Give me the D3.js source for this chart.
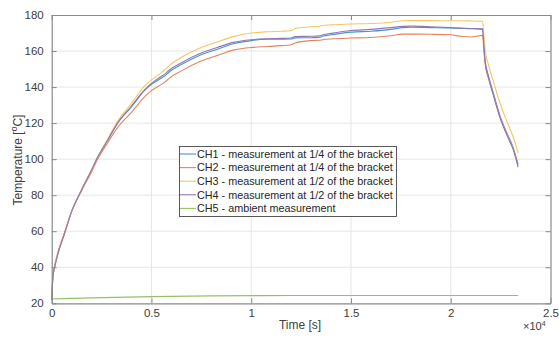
<!DOCTYPE html>
<html><head><meta charset="utf-8">
<script src="https://cdn.jsdelivr.net/npm/d3@7"></script>
<style>
html,body{margin:0;padding:0;background:#fff;}
svg{display:block;font-family:"Liberation Sans",Arial,sans-serif;}
</style></head>
<body><svg id="c" width="559" height="340"></svg>
<script>
// ---- data ----
const time = [0, 65, 150, 300, 650, 1000, 1500, 2000, 2300, 2800, 3300, 4000, 4650, 5000, 5500, 5700, 5900, 6500, 7400, 8300, 9100, 10000, 10800, 11500, 12000, 12200, 13000, 13400, 13600, 14000, 15000, 16000, 17000, 17600, 18000, 19000, 20000, 20500, 21000, 21600, 21650, 21720, 21900, 22140, 22470, 22810, 23140, 23375];
const ch1 = [22, 35, 40, 47, 59, 71, 83, 94, 101, 110.5, 120, 129, 138, 141.5, 145, 146.5, 148.5, 152.5, 157.5, 161, 164, 165.8, 166.5, 166.6, 166.7, 167.3, 167.4, 167.5, 168.3, 169, 170.5, 171, 172, 173, 173.2, 173, 172.8, 172.6, 172.4, 172, 165, 155, 146, 136.5, 124, 114.5, 106, 96.5];
const ch2 = [23, 36, 41, 48, 59.5, 71, 82.5, 93, 100, 109, 117.5, 126, 134.5, 138, 141.5, 143, 145, 149, 154, 157.5, 160.5, 162, 162.5, 163, 163.5, 164.5, 165.8, 166, 166.3, 166.7, 167.2, 167.5, 168.5, 169.4, 169.4, 169.3, 169, 168.2, 167.8, 168.7, 162, 153, 144.5, 135.5, 123.5, 114, 105.5, 97.5];
const ch3 = [22, 35, 40, 47, 59, 71, 83, 94, 101, 111, 121, 131, 140.5, 144, 148, 150, 152, 156.5, 161.5, 165, 168, 170, 170.7, 171, 171.3, 172.5, 173.5, 173.8, 174.2, 174.5, 175, 175.3, 176, 176.8, 176.9, 176.9, 176.8, 176.8, 176.7, 176.5, 170, 161, 152, 143, 131, 121, 112, 103.5];
const ch4 = [22, 35, 40, 47, 59, 71, 83, 94, 101, 110.5, 120, 129.5, 138.5, 142, 146, 147.5, 149.5, 153.5, 158.5, 162, 164.8, 166.3, 166.8, 167, 167.2, 168, 168.2, 168.4, 169, 169.8, 171.4, 172, 173, 173.7, 173.8, 173.5, 173, 172.7, 172.5, 172.3, 164.5, 154.5, 145, 135.5, 123, 113.5, 105, 95.5];
const time5 = [0, 2000, 5000, 8000, 12000, 16000, 20000, 23375];
const ch5 = [22.4, 23.0, 23.7, 24.1, 24.3, 24.3, 24.3, 24.3];
const seriesNames = ["CH1 - measurement at 1/4 of the bracket", "CH2 - measurement at 1/4 of the bracket", "CH3 - measurement at 1/2 of the bracket", "CH4 - measurement at 1/2 of the bracket", "CH5 - ambient measurement"];
const seriesColors = ["#4a93d0", "#e3845c", "#f2c860", "#9078b8", "#98c064"];
const xTicks = [0, 5000, 10000, 15000, 20000, 25000];
const xTickLabels = ["0", "0.5", "1", "1.5", "2", "2.5"];
const yTicks = [20, 40, 60, 80, 100, 120, 140, 160, 180];

// ---- chart ----
const svg = d3.select("#c");
const L = 51.7, R = 550.5, T = 15, B = 303.3;
const x = d3.scaleLinear().domain([0, 25000]).range([L, R]);
const y = d3.scaleLinear().domain([20, 180]).range([B, T]);
const axisCol = "#8a8a8a", textCol = "#404040";

// grid
const g = svg.append("g");
g.selectAll(".gx").data(xTicks.slice(1, -1)).enter().append("line")
  .attr("x1", d => x(d)).attr("x2", d => x(d)).attr("y1", T).attr("y2", B)
  .attr("stroke", "#e6e6e6").attr("stroke-width", 1);
g.selectAll(".gy").data(yTicks.slice(1, -1)).enter().append("line")
  .attr("y1", d => y(d)).attr("y2", d => y(d)).attr("x1", L).attr("x2", R)
  .attr("stroke", "#e6e6e6").attr("stroke-width", 1);

// lines
const sets = [
  {t: time, v: ch1}, {t: time, v: ch2}, {t: time, v: ch3}, {t: time, v: ch4}, {t: time5, v: ch5}
];
const line = d3.line().x(d => x(d[0])).y(d => y(d[1])).curve(d3.curveMonotoneX);
sets.forEach((s, i) => {
  svg.append("path").datum(s.t.map((tt, k) => [tt, s.v[k]]))
    .attr("d", line).attr("fill", "none")
    .attr("stroke", seriesColors[i]).attr("stroke-width", 1.1)
    .attr("stroke-linejoin", "round");
});

// axes (MATLAB box, inward ticks)
const tl = 5;
const axB = svg.append("g").attr("transform", `translate(0,${B})`)
  .call(d3.axisBottom(x).tickValues(xTicks).tickFormat((d, i) => xTickLabels[i]).tickSizeInner(-tl).tickSizeOuter(0).tickPadding(6));
const axT = svg.append("g").attr("transform", `translate(0,${T})`)
  .call(d3.axisTop(x).tickValues(xTicks).tickFormat("").tickSizeInner(-tl).tickSizeOuter(0));
const axL = svg.append("g").attr("transform", `translate(${L},0)`)
  .call(d3.axisLeft(y).tickValues(yTicks).tickSizeInner(-tl).tickSizeOuter(0).tickPadding(8));
const axR = svg.append("g").attr("transform", `translate(${R},0)`)
  .call(d3.axisRight(y).tickValues(yTicks).tickFormat("").tickSizeInner(-tl).tickSizeOuter(0));
[axB, axT, axL, axR].forEach(a => {
  a.selectAll("path.domain").attr("stroke", axisCol).attr("stroke-width", 1.2);
  a.selectAll(".tick line").attr("stroke", axisCol);
  a.selectAll(".tick text").attr("fill", textCol).style("font-size", "11.5px").style("font-family", '"Liberation Sans",Arial,sans-serif');
});

// axis labels
svg.append("text").attr("x", 300).attr("y", 329).attr("text-anchor", "middle")
  .attr("fill", textCol).style("font-size", "12px").text("Time [s]");
const yl = svg.append("text").attr("transform", "translate(22,160) rotate(-90)")
  .attr("text-anchor", "middle").attr("fill", textCol).style("font-size", "12px");
yl.append("tspan").text("Temperature [");
yl.append("tspan").attr("dy", -5).style("font-size", "8.5px").text("o");
yl.append("tspan").attr("dy", 5).text("C]");
const ex = svg.append("text").attr("x", 523).attr("y", 330).attr("fill", textCol).style("font-size", "11px");
ex.append("tspan").text("\u00d710");
ex.append("tspan").attr("dy", -4.5).style("font-size", "7px").text("4");

// legend
const lx = 179, ly = 146, lw = 217, lh = 70;
const leg = svg.append("g");
leg.append("rect").attr("x", lx + 0.5).attr("y", ly + 0.5).attr("width", lw).attr("height", lh)
  .attr("fill", "#fff").attr("stroke", "#303030").attr("stroke-width", 0.8);
seriesNames.forEach((n, i) => {
  const yy = ly + 8 + i * 13.6;
  leg.append("line").attr("x1", lx + 1).attr("x2", lx + 17).attr("y1", yy).attr("y2", yy)
    .attr("stroke", seriesColors[i]).attr("stroke-width", 1.1);
  leg.append("text").attr("x", lx + 18).attr("y", yy + 3.8).attr("fill", "#262626")
    .style("font-size", "10.8px").text(n);
});
</script></body></html>
